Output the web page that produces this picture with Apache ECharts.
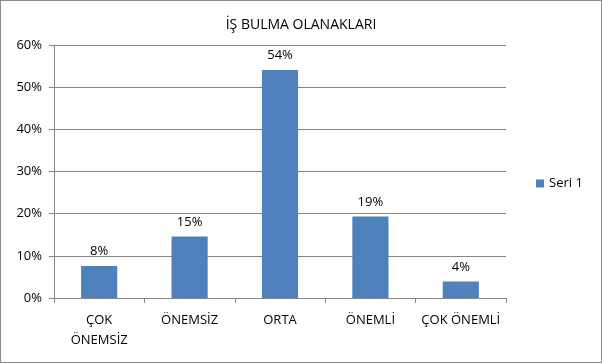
<!DOCTYPE html>
<html><head><meta charset="utf-8">
<script src="https://cdn.jsdelivr.net/npm/echarts@6/dist/echarts.min.js"></script>
<style>html,body{margin:0;padding:0;background:#fff}#c{width:600px;height:361px;border:1px solid #8c8c8c}</style>
</head><body><div id="c"></div>
<script>
const title = 'İŞ BULMA OLANAKLARI';
const categories = ['ÇOK\nÖNEMSİZ', 'ÖNEMSİZ', 'ORTA', 'ÖNEMLİ', 'ÇOK ÖNEMLİ'];
const seriesName = 'Seri 1';
const values = [0.076, 0.146, 0.541, 0.193, 0.039];
const yTicks = [0, 0.1, 0.2, 0.3, 0.4, 0.5, 0.6];

const font = '"Open Sans", "Liberation Sans", sans-serif';
const chart = echarts.init(document.getElementById('c'));
chart.setOption({
  animation: false,
  title: { text: title, left: 'center', top: 12, textStyle: { fontFamily: font, fontSize: 14, fontWeight: 'normal', color: '#000' } },
  legend: { data: [seriesName], orient: 'vertical', left: 530, top: 171, itemWidth: 8, itemHeight: 8, icon: 'rect', itemGap: 5,
    textStyle: { fontFamily: font, fontSize: 13, color: '#000' } },
  grid: { left: 53, right: 95, top: 44, bottom: 64 },
  xAxis: { type: 'category', data: categories,
    axisLine: { lineStyle: { color: '#868686' } },
    axisTick: { show: true, length: 5, lineStyle: { color: '#868686' } },
    axisLabel: { fontFamily: font, fontSize: 13, color: '#000', margin: 12, lineHeight: 20, interval: 0 } },
  yAxis: { type: 'value', min: yTicks[0], max: yTicks[yTicks.length - 1], interval: 0.1,
    axisLine: { show: true, lineStyle: { color: '#868686' } },
    axisTick: { show: true, length: 5, lineStyle: { color: '#868686' } },
    splitLine: { lineStyle: { color: '#868686' } },
    axisLabel: { fontFamily: font, fontSize: 13, color: '#000', margin: 12, formatter: v => Math.round(v * 100) + '%' } },
  series: [{ name: seriesName, type: 'bar', data: values, barWidth: '40%',
    itemStyle: { color: '#4F81BD' },
    label: { show: true, position: 'top', distance: 8, fontFamily: font, fontSize: 13, color: '#000',
      formatter: p => Math.round(p.value * 100) + '%' } }]
});
</script></body></html>
